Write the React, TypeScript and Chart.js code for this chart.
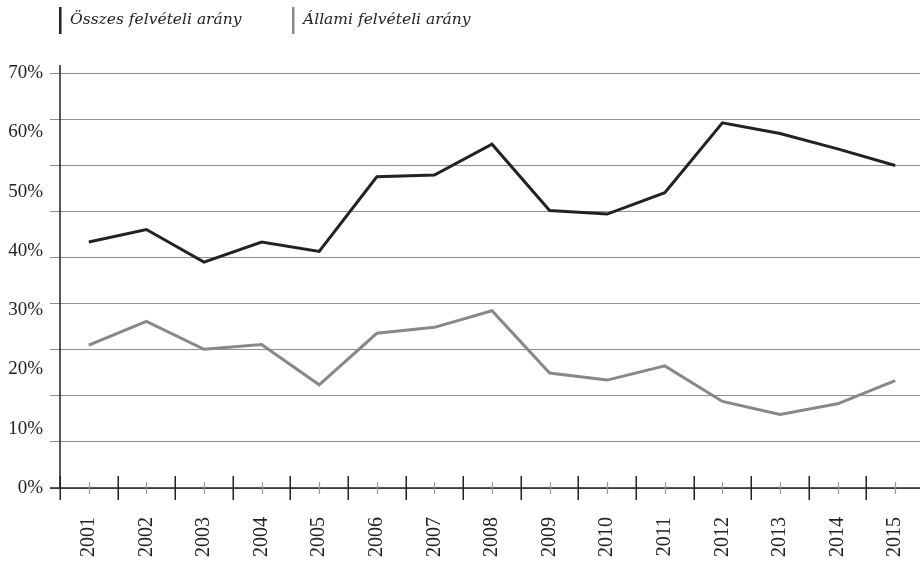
import React, { useEffect, useRef } from "react";
import { Chart, registerables } from "chart.js";

Chart.register(...registerables);

const years = ["2001","2002","2003","2004","2005","2006","2007","2008","2009","2010","2011","2012","2013","2014","2015"];
const osszes = [41.5, 43.6, 38.1, 41.5, 39.9, 52.5, 52.8, 58.0, 46.8, 46.2, 49.8, 61.6, 59.8, 57.2, 54.4];
const allami = [24.1, 28.1, 23.4, 24.2, 17.4, 26.1, 27.1, 29.9, 19.4, 18.2, 20.6, 14.6, 12.4, 14.2, 18.1];
const seriesNames = ["Összes felvételi arány", "Állami felvételi arány"];
const seriesColors = ["#222222", "#888888"];
const yLabelTicks = [0, 10, 20, 30, 40, 50, 60, 70];
const gridDivisions = 9;

const TICK_FONT = "'Liberation Serif', serif";
const LEGEND_FONT = "'DejaVu Serif', serif";

const extrasPlugin = {
  id: "extras",
  afterDraw(chart: any) {
    const ctx = chart.ctx;
    const xs = chart.scales.x;
    const area = chart.chartArea;
    const yAxis = area.bottom;
    ctx.save();
    // legend
    ctx.font = "italic 15.5px " + LEGEND_FONT;
    ctx.textBaseline = "middle";
    ctx.textAlign = "left";
    const legendX = [59, 292];
    seriesNames.forEach((name, i) => {
      ctx.fillStyle = seriesColors[i];
      ctx.fillRect(legendX[i], 7, 2.5, 27);
      ctx.fillStyle = "#222";
      ctx.fillText(name, legendX[i] + 11, 20);
    });
    // axis lines
    ctx.strokeStyle = "#222";
    ctx.lineWidth = 1.5;
    ctx.beginPath();
    ctx.moveTo(area.left - 10, yAxis);
    ctx.lineTo(chart.width, yAxis);
    ctx.moveTo(area.left, area.top - 8);
    ctx.lineTo(area.left, yAxis);
    ctx.stroke();
    // major ticks at category boundaries
    ctx.beginPath();
    for (let i = 0; i <= years.length; i++) {
      const px = Math.round(xs.getPixelForValue(i - 0.5)) + 0.25;
      ctx.moveTo(px, yAxis - 12);
      ctx.lineTo(px, yAxis + 12);
    }
    ctx.stroke();
    // minor ticks at category centers
    ctx.strokeStyle = "#999";
    ctx.lineWidth = 1.2;
    ctx.beginPath();
    for (let i = 0; i < years.length; i++) {
      const px = Math.round(xs.getPixelForValue(i)) + 0.5;
      ctx.moveTo(px, yAxis - 6);
      ctx.lineTo(px, yAxis + 6);
    }
    ctx.stroke();
    ctx.restore();
  },
};

export default function App() {
  const ref = useRef<HTMLCanvasElement | null>(null);
  useEffect(() => {
    if (!ref.current) return;
    const chart = new Chart(ref.current, {
      type: "line",
      data: {
        labels: years,
        datasets: [
          {
            label: seriesNames[0],
            data: osszes,
            borderColor: seriesColors[0],
            borderWidth: 3,
            pointRadius: 0,
            tension: 0,
            yAxisID: "y",
          },
          {
            label: seriesNames[1],
            data: allami,
            borderColor: seriesColors[1],
            borderWidth: 3,
            pointRadius: 0,
            tension: 0,
            yAxisID: "y",
          },
        ],
      },
      options: {
        responsive: false,
        animation: false,
        devicePixelRatio: 1,
        layout: { padding: { top: 73, left: 0, right: 0, bottom: 0 } },
        plugins: {
          legend: { display: false },
          tooltip: { enabled: false },
        },
        scales: {
          x: {
            type: "category",
            offset: true,
            grid: { display: false, drawTicks: false },
            border: { display: false },
            ticks: {
              autoSkip: false,
              minRotation: 90,
              maxRotation: 90,
              padding: 29,
              color: "#222",
              font: { family: TICK_FONT, size: 20 },
            },
            afterFit(scale: any) {
              scale.height = 74;
              scale.paddingLeft = 0;
              scale.paddingRight = 0;
            },
          },
          y: {
            position: "left",
            weight: 1,
            min: 0,
            max: 70,
            grid: { display: false, drawTicks: false },
            border: { display: false },
            afterBuildTicks(scale: any) {
              scale.ticks = yLabelTicks.map((v) => ({ value: v }));
            },
            ticks: {
              padding: 7,
              color: "#222",
              font: { family: TICK_FONT, size: 19 },
              callback: (v: any) => v + "%",
            },
            afterFit(scale: any) {
              scale.width = 50;
            },
          },
          yGrid: {
            position: "left",
            weight: 0,
            min: 0,
            max: 70,
            afterBuildTicks(scale: any) {
              scale.ticks = Array.from({ length: gridDivisions + 1 }, (_, i) => ({
                value: (i * 70) / gridDivisions,
              }));
            },
            ticks: { display: false },
            grid: {
              color: "#8f8f8f",
              lineWidth: 1,
              tickLength: 10,
              drawTicks: true,
            },
            border: { display: false },
            afterFit(scale: any) {
              scale.width = 10;
            },
          },
        },
      },
      plugins: [extrasPlugin],
    });
    return () => chart.destroy();
  }, []);
  return (
    <div style={{ position: "absolute", left: 0, top: 0, width: 920, height: 562, overflow: "hidden", background: "#fff" }}>
      <canvas ref={ref} width={924} height={562} style={{ display: "block" }} />
    </div>
  );
}
